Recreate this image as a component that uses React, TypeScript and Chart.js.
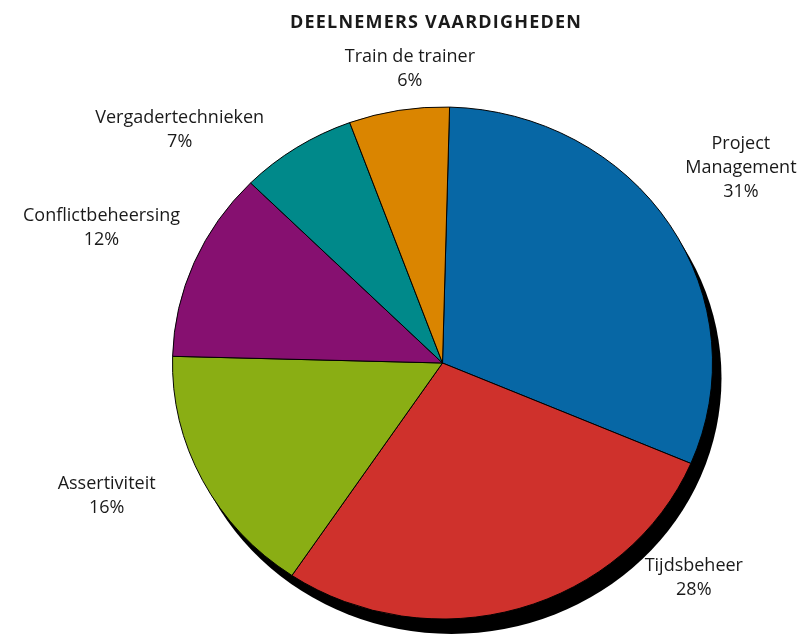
import React, { useEffect, useRef } from "react";
import { Chart, registerables } from "chart.js";

Chart.register(...registerables);

const chartTitle = "DEELNEMERS VAARDIGHEDEN";
const categories = [
  "Project Management",
  "Tijdsbeheer",
  "Assertiviteit",
  "Conflictbeheersing",
  "Vergadertechnieken",
  "Train de trainer",
];
const labelLines = [
  ["Project", "Management"],
  ["Tijdsbeheer"],
  ["Assertiviteit"],
  ["Conflictbeheersing"],
  ["Vergadertechnieken"],
  ["Train de trainer"],
];
const values = [31, 28, 16, 12, 7, 6];
const sliceColors = ["#0767A5", "#CF312C", "#8AAE14", "#861070", "#00898A", "#DA8500"];

// label placement: angle (deg, clockwise from top) and distance (px) from pie centre
const labelAngles = [56.7, 130.4, 248.5, 291.7, 311.7, 353.7];
const labelDistances = [357, 330, 361, 367, 352, 297];

const SQUASH = 256 / 270;
const SHADOW_DX = 9;
const SHADOW_DY = 15;

const ellipsePlugin = {
  id: "ellipsePie",
  beforeDatasetsDraw(chart: any) {
    const meta = chart.getDatasetMeta(0);
    const arc = meta.data[0];
    if (!arc) return;
    const cx = arc.x;
    const cy = arc.y;
    const r = arc.outerRadius;
    const ctx = chart.ctx;
    ctx.save();
    ctx.fillStyle = "#000000";
    ctx.beginPath();
    ctx.ellipse(cx + SHADOW_DX, cy + SHADOW_DY, r, r * SQUASH, 0, 0, Math.PI * 2);
    ctx.fill();
    ctx.translate(cx, cy);
    ctx.scale(1, SQUASH);
    ctx.translate(-cx, -cy);
  },
  afterDatasetsDraw(chart: any) {
    chart.ctx.restore();
  },
  afterDraw(chart: any) {
    const ctx = chart.ctx;
    const meta = chart.getDatasetMeta(0);
    const arc = meta.data[0];
    if (!arc) return;
    const cx = arc.x;
    const cy = arc.y;
    const total = values.reduce((a, b) => a + b, 0);
    ctx.save();
    ctx.fillStyle = "#1a1a1a";
    ctx.textAlign = "center";
    ctx.textBaseline = "alphabetic";
    ctx.font = "bold 18px 'Open Sans'";
    (ctx as any).letterSpacing = "1.2px";
    ctx.fillText(chartTitle, 436, 28);
    (ctx as any).letterSpacing = "0px";
    ctx.font = "18px 'Open Sans'";
    const lh = 24;
    values.forEach((v, i) => {
      const a = (labelAngles[i] * Math.PI) / 180;
      const x = cx + Math.sin(a) * labelDistances[i];
      const y = cy - Math.cos(a) * labelDistances[i];
      const lines = [...labelLines[i], Math.round((v / total) * 100) + "%"];
      const top = y - ((lines.length - 1) * lh) / 2;
      lines.forEach((ln, j) => {
        ctx.fillText(ln, x, top + j * lh + 6);
      });
    });
    ctx.restore();
  },
};

export default function App() {
  const ref = useRef<HTMLCanvasElement | null>(null);
  useEffect(() => {
    if (!ref.current) return;
    const chart = new Chart(ref.current, {
      type: "pie",
      data: {
        labels: categories,
        datasets: [
          {
            data: values,
            backgroundColor: sliceColors,
            borderColor: "#000000",
            borderWidth: 1,
            clip: false,
          } as any,
        ],
      },
      options: {
        responsive: false,
        animation: false,
        events: [],
        rotation: 1.5,
        layout: { padding: { left: 172, right: 94, top: 92.5, bottom: 1.5 } },
        plugins: {
          legend: { display: false },
          tooltip: { enabled: false },
          title: { display: false },
        },
      },
      plugins: [ellipsePlugin],
    });
    return () => chart.destroy();
  }, []);
  return (
    <div style={{ position: "fixed", left: 0, top: 0, width: 807, height: 635, background: "#ffffff" }}>
      <canvas ref={ref} width={807} height={635} style={{ display: "block" }} />
    </div>
  );
}
